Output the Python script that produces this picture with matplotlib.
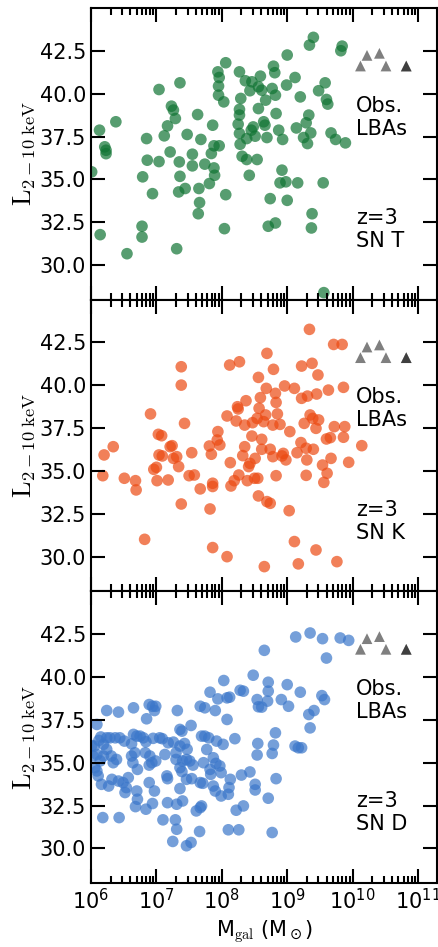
import numpy as np
import matplotlib
matplotlib.use('Agg')
import matplotlib.pyplot as plt
from matplotlib.ticker import LogLocator, NullFormatter

plt.rcParams['mathtext.fontset'] = 'cm'
plt.rcParams['mathtext.default'] = 'regular'
plt.rcParams['font.size'] = 15

# log10(M_gal / Msun) and log10(L_2-10keV)
logM_T = [6.01, 6.13, 6.14, 6.21, 6.23, 6.23, 6.38, 6.55, 6.78, 6.78,
          6.79, 6.85, 6.86, 6.94, 7.04, 7.04, 7.12, 7.17, 7.21, 7.23,
          7.26, 7.29, 7.31, 7.35, 7.36, 7.36, 7.34, 7.44, 7.47, 7.55,
          7.55, 7.63, 7.65, 7.66, 7.64, 7.68, 7.74, 7.81, 7.84, 7.86,
          7.88, 7.88, 7.89, 7.96, 7.94, 7.96, 7.95, 7.95, 8.03, 8.06,
          8.06, 8.04, 8.27, 8.27, 8.27, 8.25, 8.27, 8.28, 8.29, 8.31,
          8.38, 8.36, 8.38, 8.42, 8.46, 8.43, 8.48, 8.51, 8.54, 8.56,
          8.59, 8.61, 8.56, 8.64, 8.67, 8.69, 8.74, 8.77, 8.79, 8.81,
          8.82, 8.83, 8.87, 8.89, 8.92, 8.93, 8.71, 8.82, 8.98, 9.0,
          8.99, 9.0, 9.12, 9.14, 9.16, 9.2, 9.25, 9.29, 9.31, 9.33,
          9.34, 9.4, 9.36, 9.38, 9.37, 9.48, 9.55, 9.58, 9.6, 9.62,
          9.56, 9.67, 9.74, 9.84, 9.82, 9.89, 8.45, 8.66]
L_T = [35.44, 37.87, 31.78, 36.9, 36.7, 36.5, 38.36, 30.67, 32.27, 31.64,
       35.15, 37.38, 36.12, 34.17, 40.24, 36.04, 37.54, 38.12, 36.6, 39.27,
       39.04, 38.55, 30.96, 36.02, 35.18, 40.63, 34.27, 34.47, 37.62, 36.47,
       35.79, 38.78, 34.47, 33.65, 33.0, 37.33, 35.89, 34.76, 36.51, 38.16,
       36.96, 35.67, 35.24, 36.96, 41.27, 40.94, 40.44, 39.91, 39.52, 41.8,
       34.11, 32.13, 41.27, 39.08, 38.75, 38.22, 37.68, 37.05, 39.72, 36.35,
       36.16, 40.75, 37.38, 35.24, 40.69, 40.17, 38.06, 37.52, 36.16, 40.4,
       41.02, 40.2, 39.13, 38.36, 39.62, 37.44, 33.88, 40.3, 41.6, 41.22,
       39.91, 38.84, 37.87, 34.8, 35.54, 37.33, 32.27, 32.46, 34.86, 33.78,
       40.5, 42.25, 40.94, 38.0, 34.8, 39.81, 37.44, 38.3, 37.09, 38.75,
       42.83, 43.28, 37.71, 33.0, 32.17, 40.17, 34.8, 40.63, 39.66, 39.39,
       28.4, 37.71, 37.33, 42.77, 42.5, 37.13, 37.87, 38.16]

logM_K = [6.18, 6.2, 6.34, 6.51, 6.68, 6.69, 6.82, 6.91, 6.96, 7.0,
          7.01, 7.03, 7.08, 7.04, 7.09, 7.18, 7.21, 7.24, 7.26, 7.31,
          7.34, 7.38, 7.38, 7.43, 7.38, 7.5, 7.58, 7.54, 7.67, 7.81,
          7.84, 7.86, 7.86, 7.82, 7.86, 7.94, 7.93, 7.97, 8.08, 8.08,
          8.12, 8.27, 8.13, 8.14, 8.19, 8.26, 8.22, 8.24, 8.25, 8.35,
          8.32, 8.35, 8.37, 8.39, 8.41, 8.43, 8.46, 8.47, 8.5, 8.51,
          8.55, 8.54, 8.56, 8.57, 8.59, 8.61, 8.61, 8.56, 8.64, 8.67,
          8.68, 8.69, 8.65, 8.69, 8.74, 8.74, 8.78, 8.78, 8.79, 8.82,
          8.83, 8.85, 8.83, 8.89, 8.92, 8.94, 8.96, 8.98, 9.04, 9.03,
          9.11, 9.11, 9.15, 9.17, 9.21, 9.22, 9.22, 9.26, 9.29, 9.3,
          9.29, 9.31, 9.34, 9.35, 9.38, 9.39, 9.4, 9.44, 9.44, 9.45,
          9.48, 9.47, 9.54, 9.56, 9.61, 9.6, 9.66, 9.63, 9.67, 9.71,
          9.72, 9.76, 9.84, 9.86, 9.88, 9.86, 9.94, 10.14]
L_K = [34.73, 35.94, 36.42, 34.58, 34.44, 33.9, 31.02, 38.33, 35.1, 35.22,
       34.44, 37.14, 37.06, 35.94, 35.88, 34.48, 36.42, 36.48, 35.74, 35.84,
       35.26, 41.08, 40.01, 37.78, 33.08, 34.73, 34.77, 36.07, 33.96, 36.46,
       35.98, 34.29, 34.1, 32.79, 30.54, 37.3, 36.81, 36.52, 30.01, 38.21,
       41.18, 41.37, 35.49, 34.13, 34.44, 34.77, 37.92, 38.75, 38.62, 36.42,
       35.9, 37.68, 39.1, 34.44, 35.26, 35.45, 37.04, 37.82, 34.58, 35.74,
       34.58, 38.07, 40.46, 38.66, 39.28, 36.85, 36.27, 33.55, 37.88, 38.27,
       39.82, 41.86, 29.43, 33.22, 33.12, 36.27, 37.68, 35.84, 40.93, 39.53,
       39.0, 38.33, 34.73, 37.72, 35.88, 36.03, 39.96, 35.65, 37.3, 32.69,
       39.82, 30.89, 36.07, 29.59, 36.66, 39.24, 41.12, 37.78, 36.33, 35.65,
       34.75, 39.37, 43.26, 38.27, 41.28, 38.07, 36.27, 30.4, 37.49, 39.49,
       37.98, 40.6, 35.35, 34.34, 34.87, 36.87, 36.95, 39.72, 35.74, 42.38,
       37.59, 29.72, 42.38, 39.88, 37.59, 36.97, 35.51, 36.48]

logM_D = [9.13, 9.35, 9.54, 9.81, 9.94, 9.6, 8.65, 8.48, 9.0, 9.2,
          8.91, 9.02, 8.71, 8.71, 8.7, 8.54, 8.56, 8.61, 9.53, 9.57,
          9.41, 9.33, 9.35, 9.12, 9.17, 9.22, 8.82, 8.79, 8.77, 8.83,
          8.71, 8.77, 8.55, 8.54, 8.51, 8.51, 8.43, 8.33, 8.22, 8.26,
          8.1, 8.3, 8.33, 8.28, 8.2, 8.03, 8.08, 8.12, 7.82, 7.94,
          7.9, 7.67, 7.74, 8.08, 7.92, 8.02, 7.8, 7.74, 7.69, 7.77,
          7.72, 7.87, 7.91, 7.97, 7.82, 7.83, 7.99, 7.87, 7.9, 7.99,
          8.1, 8.11, 8.13, 7.67, 7.71, 7.69, 7.61, 7.67, 7.66, 7.53,
          7.47, 7.36, 7.39, 7.32, 7.43, 7.36, 7.3, 7.3, 7.46, 7.51,
          7.56, 7.39, 7.36, 7.54, 7.46, 7.36, 7.4, 7.31, 7.29, 7.31,
          7.25, 7.46, 7.53, 7.1, 7.17, 7.16, 7.17, 7.13, 7.18, 7.05,
          7.09, 6.95, 6.99, 6.9, 6.89, 6.89, 6.97, 6.94, 6.84, 6.7,
          6.71, 6.68, 6.71, 6.64, 6.62, 6.67, 6.65, 6.7, 6.75, 6.8,
          6.84, 6.62, 6.85, 6.89, 6.94, 6.97, 6.99, 6.65, 6.42, 6.24,
          6.09, 6.05, 6.03, 6.06, 6.11, 6.16, 6.18, 6.43, 6.24, 6.29,
          6.37, 6.44, 6.51, 6.19, 6.24, 6.31, 6.39, 6.34, 6.27, 6.32,
          6.42, 6.49, 6.54, 6.52, 6.57, 6.14, 6.19, 6.09, 6.09,
          6.83, 6.93, 7.4, 7.26, 6.12, 6.15, 6.01]
L_D = [42.33, 42.56, 42.23, 42.27, 42.13, 41.1, 41.55, 40.1, 39.55, 39.11,
       38.68, 38.29, 39.69, 39.17, 38.59, 38.68, 38.26, 38.24, 38.91, 38.68,
       38.04, 37.81, 37.03, 35.97, 35.87, 35.87, 36.74, 36.03, 35.54, 34.07,
       32.93, 30.93, 36.12, 35.45, 33.74, 33.41, 34.46, 32.48, 32.23, 31.09,
       31.09, 34.28, 39.17, 39.22, 36.4, 39.79, 38.78, 38.82, 39.11, 38.72,
       38.04, 38.29, 38.2, 37.52, 36.26, 36.07, 36.45, 36.55, 36.55, 35.77,
       35.0, 35.29, 34.96, 34.81, 34.61, 34.32, 34.42, 33.64, 33.35, 33.06,
       33.16, 33.55, 34.03, 33.84, 33.8, 32.48, 32.19, 32.38, 30.99, 37.17,
       35.78, 36.94, 36.84, 38.04, 36.12, 35.97, 35.58, 35.19, 35.19, 35.1,
       34.86, 34.48, 34.71, 34.07, 34.03, 33.49, 32.77, 32.58, 31.67, 31.12,
       30.41, 30.16, 30.35, 31.67, 32.67, 34.23, 34.07, 35.48, 36.16, 36.45,
       36.4, 36.42, 35.1, 35.39, 34.86, 33.84, 33.35, 32.62, 32.29, 33.35,
       32.87, 32.44, 34.61, 35.0, 35.39, 35.58, 36.65, 36.55, 36.55, 36.45,
       36.22, 36.1, 37.56, 38.39, 38.29, 38.04, 38.29, 38.2, 37.95, 38.04,
       37.23, 35.97, 35.39, 34.71, 34.23, 33.74, 31.8, 31.8, 36.45, 36.45,
       36.45, 36.45, 36.26, 36.07, 35.78, 35.39, 35.19, 35.0, 33.64, 34.03,
       33.93, 33.84, 33.55, 33.26, 34.13, 35.1, 35.39, 35.48, 34.52,
       35.58, 35.0, 35.1, 36.2, 36.3, 36.5, 36.0]

# observed LBAs
logM_obs = [10.12, 10.22, 10.41, 10.51, 10.82, 10.82]
L_obs = [41.61, 42.23, 42.35, 41.61, 41.61, 41.61]

panels = [('T', logM_T, L_T, '#107433'),
          ('K', logM_K, L_K, '#ec4a13'),
          ('D', logM_D, L_D, '#3b77ca')]

fig = plt.figure(figsize=(4.39, 9.47), dpi=100)
gs = fig.add_gridspec(3, 1, left=0.2073, right=0.9954, bottom=0.0678,
                      top=0.9917, hspace=0)

for i, (sn, lm, lx, col) in enumerate(panels):
    ax = fig.add_subplot(gs[i])
    ax.scatter(10**np.array(lm), lx, s=70, c=col, alpha=0.7, edgecolors='none')
    ax.scatter(10**np.array(logM_obs), L_obs, s=60, marker='^', c='k',
               alpha=0.5, edgecolors='none')
    ax.set_xscale('log')
    ax.set_xlim(1e6, 1.95e11)
    ax.set_ylim(28, 45)
    ax.set_xticks(10.0**np.arange(6, 12))
    ax.xaxis.set_minor_locator(LogLocator(base=10, subs=np.arange(2, 10), numticks=30))
    ax.xaxis.set_minor_formatter(NullFormatter())
    ax.set_yticks([30, 32.5, 35, 37.5, 40, 42.5])
    ax.tick_params(which='both', direction='in', top=True, right=True,
                   width=1.5, labelsize=15)
    ax.tick_params(which='major', length=10)
    ax.tick_params(which='minor', length=5)
    for sp in ax.spines.values():
        sp.set_linewidth(1.5)
    ax.set_ylabel(r'$\rm L_{2-10\ keV}$', fontsize=19, labelpad=2)
    ax.text(0.765, 0.625, 'Obs.\nLBAs', transform=ax.transAxes,
            fontsize=15, va='center', ha='left')
    ax.text(0.765, 0.24, 'z=3\nSN ' + sn, transform=ax.transAxes,
            fontsize=15, va='center', ha='left')
    if i < 2:
        ax.tick_params(labelbottom=False)
    else:
        ax.set_xlabel(r'M$_{\rm gal}$ (M$_\odot$)', fontsize=15)

plt.savefig('out.png', dpi=100)
